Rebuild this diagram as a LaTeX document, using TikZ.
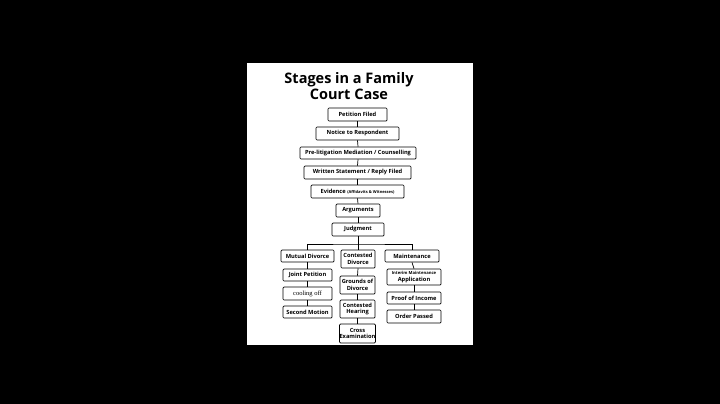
\documentclass[tikz,border=0pt]{standalone}
\usepackage{fontspec}
\setmainfont{Open Sans}
\newfontfamily\serifcool{Liberation Serif}
\begin{document}
\begin{tikzpicture}[x=1pt,y=-1pt,
  bx/.style={draw=black,line width=0.7pt,rounded corners=1pt,fill=white,inner sep=0pt,align=center,font=\fontsize{5.7}{6.5}\selectfont\bfseries},
  ln/.style={draw=black,line width=0.7pt}]
\fill[black] (0,0) rectangle (720,404);
\fill[white] (247,63) rectangle (473,345);
\node[font=\fontsize{14.5}{15.5}\selectfont\bfseries,align=center] (title) at (349,86) {Stages in a Family\\Court Case};
\newcommand\bxn[6]{\node[bx,minimum width=#3-#2,minimum height=#5-#4] (#1) at ({(#2+#3)/2},{(#4+#5)/2}) {#6};}
\bxn{a}{328}{387}{108}{121}{Petition Filed}
\bxn{b}{316}{399}{127}{140}{Notice to Respondent}
\bxn{c}{300}{416}{147}{159}{Pre-litigation Mediation / Counselling}
\bxn{d}{304}{411}{166}{179}{Written Statement / Reply Filed}
\bxn{e}{311}{404}{185}{198}{Evidence {\fontsize{4}{4}\selectfont (Affidavits \& Witnesses)}}
\bxn{f}{336}{380}{204}{217}{Arguments}
\bxn{g}{332}{384}{223}{236}{Judgment}
\bxn{m1}{281}{334}{250}{262}{Mutual Divorce}
\bxn{m2}{283}{332}{269}{281}{Joint Petition}
\bxn{m3}{283}{332}{287}{300}{\serifcool\mdseries\fontsize{6.5}{7}\selectfont cooling off}
\bxn{m4}{283}{332}{306}{318}{Second Motion}
\bxn{c1}{341}{375}{250}{268}{Contested\\Divorce}
\bxn{c2}{340}{375}{276}{294}{Grounds of\\Divorce}
\bxn{c3}{340}{375}{300}{318}{Contested\\Hearing}
\bxn{c4}{340}{375}{324}{343}{Cross\\Examination}
\bxn{n1}{385}{439}{250}{262}{Maintenance}
\bxn{n2}{387}{441}{269}{285}{{\fontsize{4.2}{5}\selectfont Interim Maintenance}\\Application}
\bxn{n3}{387}{441}{292}{304}{Proof of Income}
\bxn{n4}{387}{441}{310}{323}{Order Passed}
\foreach \p/\q in {a/b,b/c,c/d,d/e,e/f,f/g,m1/m2,m2/m3,m3/m4,c1/c2,c2/c3,c3/c4,n1/n2,n2/n3,n3/n4}
  \draw[ln] (\p.south) -- (\q.north);
\coordinate (bus) at (358,244);
\draw[ln] (g.south) -- (bus);
\draw[ln] (m1.north) |- (bus) -| (n1.north);
\draw[ln] (bus) -- (c1.north);
\end{tikzpicture}
\end{document}
